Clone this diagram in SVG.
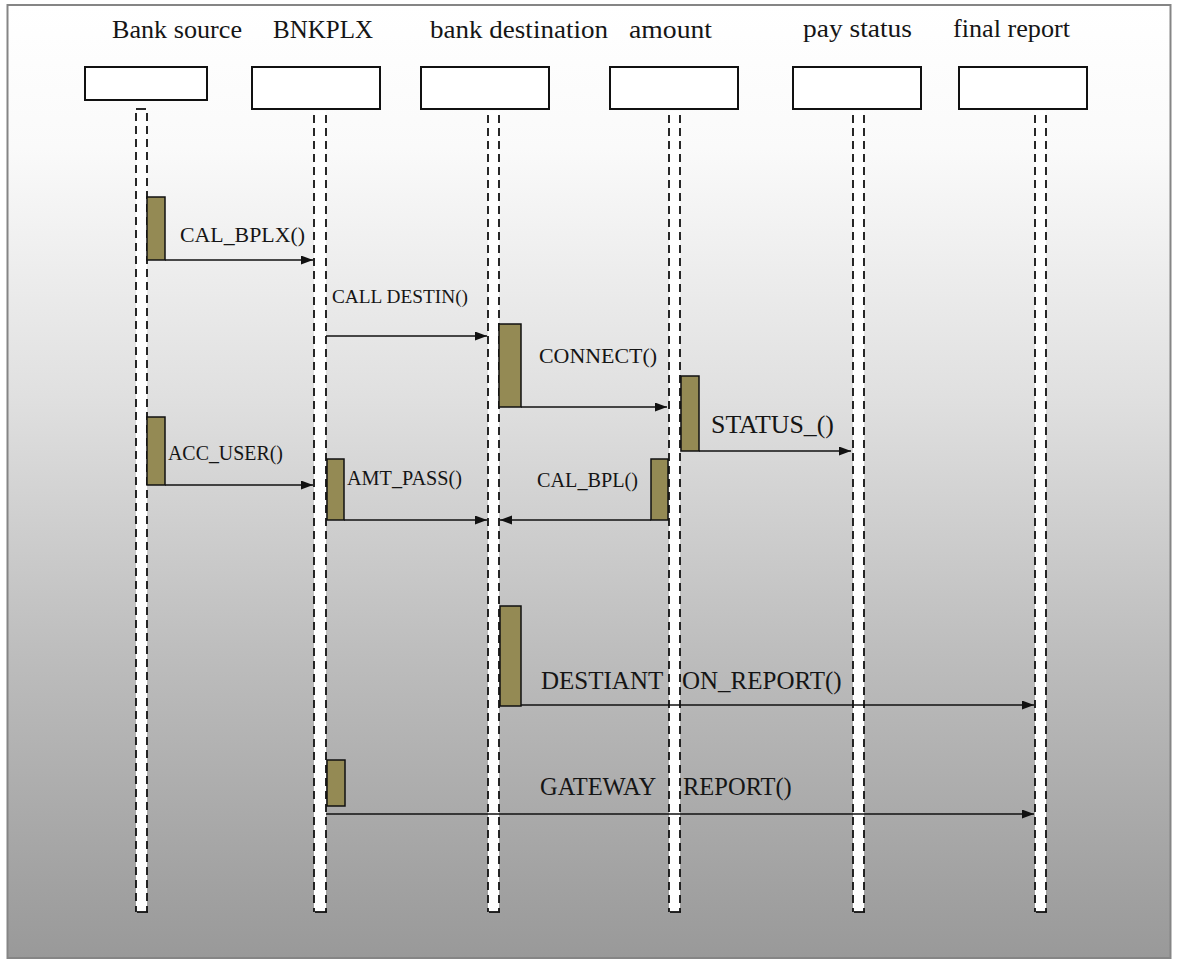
<svg xmlns="http://www.w3.org/2000/svg" width="1177" height="963" viewBox="0 0 1177 963">
  <defs>
    <linearGradient id="bg" gradientUnits="userSpaceOnUse" x1="0" y1="5" x2="0" y2="958">
      <stop offset="0" stop-color="#ffffff"/>
      <stop offset="0.15" stop-color="#fafafa"/>
      <stop offset="0.41" stop-color="#e0e0e0"/>
      <stop offset="0.68" stop-color="#bdbdbd"/>
      <stop offset="1" stop-color="#999999"/>
    </linearGradient>
    <marker id="arrow" markerUnits="userSpaceOnUse" markerWidth="14" markerHeight="10" refX="12" refY="4.5" orient="auto">
      <path d="M0,0 L12,4.5 L0,9 z" fill="#111"/>
    </marker>
    <style>
      text { font-family: 'Liberation Serif', 'DejaVu Serif', serif; fill: #151515; }
      .head { font-size: 26px; }
      .box { fill: #ffffff; stroke: #111; stroke-width: 2; }
      .strip { fill: #ffffff; stroke: none; }
      .dash { stroke: #111; stroke-width: 1.8; stroke-dasharray: 8 5; fill: none; }
      .cap { stroke: #111; stroke-width: 1.8; fill: none; }
      .act { fill: #948a54; stroke: #111; stroke-width: 1.5; }
      .call { stroke: #111; stroke-width: 1.5; fill: none; marker-end: url(#arrow); }
    </style>
  </defs>

  <!-- frame with gradient fill -->
  <rect x="7.5" y="5" width="1163" height="953" fill="url(#bg)" stroke="#858585" stroke-width="2"/>

  <!-- message labels (lifelines are painted over them) -->
  <g id="labels" font-family="Liberation Serif, DejaVu Serif, serif">
    <text x="180" y="242" font-size="21" textLength="125" lengthAdjust="spacingAndGlyphs">CAL_BPLX()</text>
    <text x="332" y="303" font-size="19.5" textLength="136" lengthAdjust="spacingAndGlyphs">CALL DESTIN()</text>
    <text x="539" y="363" font-size="21.5" textLength="118" lengthAdjust="spacingAndGlyphs">CONNECT()</text>
    <text x="711" y="433" font-size="24.5" textLength="123" lengthAdjust="spacingAndGlyphs">STATUS_()</text>
    <text x="168" y="460" font-size="21" textLength="115" lengthAdjust="spacingAndGlyphs">ACC_USER()</text>
    <text x="347" y="485" font-size="20.5" textLength="115" lengthAdjust="spacingAndGlyphs">AMT_PASS()</text>
    <text x="537" y="487" font-size="20.5" textLength="101" lengthAdjust="spacingAndGlyphs">CAL_BPL()</text>
    <text x="541" y="689" font-size="25">DESTIANT<tspan x="670">I</tspan><tspan x="682">ON_REPORT()</tspan></text>
    <text x="540" y="795" font-size="24.5">GATEWAY <tspan x="683">REPORT()</tspan></text>
  </g>

  <!-- lifeline: Bank source -->
  <g id="bank-source">
    <text class="head" x="112" y="38" textLength="130" lengthAdjust="spacingAndGlyphs">Bank source</text>
    <rect class="box" x="85" y="67" width="122" height="33"/>
    <rect class="strip" x="136" y="109" width="11" height="803"/>
    <line class="cap" x1="136" y1="109" x2="146" y2="109"/>
    <line class="dash" x1="136" y1="113" x2="136" y2="912"/>
    <line class="dash" x1="147" y1="113" x2="147" y2="912"/>
    <line class="cap" x1="137" y1="912" x2="148" y2="912"/>
    <rect class="act" x="147" y="197" width="18" height="63"/>
    <rect class="act" x="147" y="417" width="18" height="68"/>
  </g>

  <!-- lifeline: BNKPLX -->
  <g id="bnkplx">
    <text class="head" x="273" y="38" textLength="100" lengthAdjust="spacingAndGlyphs">BNKPLX</text>
    <rect class="box" x="252" y="67" width="128" height="42"/>
    <rect class="strip" x="314" y="111" width="12" height="801"/>
    <line class="dash" x1="314" y1="115" x2="314" y2="912"/>
    <line class="dash" x1="326" y1="115" x2="326" y2="912"/>
    <line class="cap" x1="315" y1="912" x2="327" y2="912"/>
    <rect class="act" x="327" y="459" width="17" height="61"/>
    <rect class="act" x="327" y="760" width="18" height="46"/>
  </g>

  <!-- lifeline: bank destination -->
  <g id="bank-destination">
    <text class="head" x="430" y="38" textLength="178" lengthAdjust="spacingAndGlyphs">bank destination</text>
    <rect class="box" x="421" y="67" width="128" height="42"/>
    <rect class="strip" x="488" y="111" width="11" height="801"/>
    <line class="dash" x1="488" y1="115" x2="488" y2="912"/>
    <line class="dash" x1="499" y1="115" x2="499" y2="912"/>
    <line class="cap" x1="489" y1="912" x2="500" y2="912"/>
    <rect class="act" x="499" y="324" width="22" height="83"/>
    <rect class="act" x="500" y="606" width="21" height="100"/>
  </g>

  <!-- lifeline: amount -->
  <g id="amount">
    <text class="head" x="629" y="38" textLength="83" lengthAdjust="spacingAndGlyphs">amount</text>
    <rect class="box" x="610" y="67" width="128" height="42"/>
    <rect class="strip" x="669" y="111" width="11" height="801"/>
    <line class="dash" x1="669" y1="115" x2="669" y2="912"/>
    <line class="dash" x1="680" y1="115" x2="680" y2="912"/>
    <line class="cap" x1="670" y1="912" x2="681" y2="912"/>
    <rect class="act" x="681" y="376" width="18" height="75"/>
    <rect class="act" x="651" y="459" width="17" height="61"/>
  </g>

  <!-- lifeline: pay status -->
  <g id="pay-status">
    <text class="head" x="803" y="37" textLength="109" lengthAdjust="spacingAndGlyphs">pay status</text>
    <rect class="box" x="793" y="67" width="128" height="42"/>
    <rect class="strip" x="853" y="111" width="11" height="801"/>
    <line class="dash" x1="853" y1="115" x2="853" y2="912"/>
    <line class="dash" x1="864" y1="115" x2="864" y2="912"/>
    <line class="cap" x1="854" y1="912" x2="865" y2="912"/>
  </g>

  <!-- lifeline: final report -->
  <g id="final-report">
    <text class="head" x="953" y="37" textLength="117" lengthAdjust="spacingAndGlyphs">final report</text>
    <rect class="box" x="959" y="67" width="128" height="42"/>
    <rect class="strip" x="1035" y="111" width="11" height="801"/>
    <line class="dash" x1="1035" y1="115" x2="1035" y2="912"/>
    <line class="dash" x1="1046" y1="115" x2="1046" y2="912"/>
    <line class="cap" x1="1036" y1="912" x2="1047" y2="912"/>
  </g>

  <!-- messages -->
  <g id="connectors">
    <line class="call" x1="165" y1="260" x2="313" y2="260"/>
    <line class="call" x1="326" y1="336" x2="487" y2="336"/>
    <line class="call" x1="521" y1="407" x2="667" y2="407"/>
    <line class="call" x1="699" y1="451" x2="851" y2="451"/>
    <line class="call" x1="165" y1="485" x2="313" y2="485"/>
    <line class="call" x1="344" y1="520" x2="487" y2="520"/>
    <line class="call" x1="651" y1="520" x2="500" y2="520"/>
    <line class="call" x1="521" y1="705" x2="1034" y2="705"/>
    <line class="call" x1="326" y1="814" x2="1034" y2="814"/>
  </g>
</svg>
